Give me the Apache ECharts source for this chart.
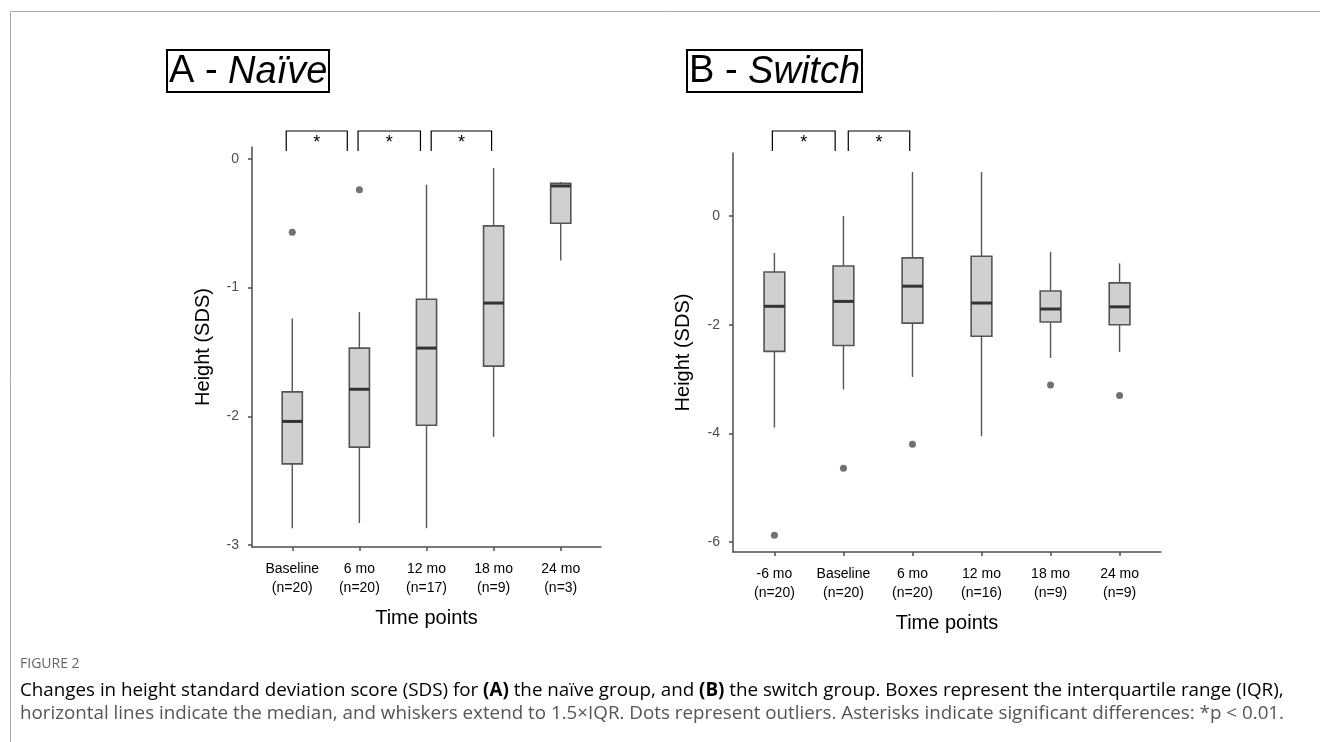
<!DOCTYPE html>
<html>
<head>
<meta charset="utf-8" />
<title>Height SDS</title>
<script src="https://cdn.jsdelivr.net/npm/echarts@6/dist/echarts.min.js"></script>
<style>html,body{margin:0;background:#fff}</style>
</head>
<body>
<div id="main" style="width:1320px;height:742px"></div>
<script type="text/javascript">
// panel A - naive group
var catsA = ['Baseline\n(n=20)', '6 mo\n(n=20)', '12 mo\n(n=17)', '18 mo\n(n=9)', '24 mo\n(n=3)'];
// [low whisker, Q1, median, Q3, high whisker]
var boxesA = [
  [-2.87, -2.37, -2.04, -1.81, -1.24],
  [-2.83, -2.24, -1.79, -1.47, -1.19],
  [-2.87, -2.07, -1.47, -1.09, -0.20],
  [-2.16, -1.61, -1.12, -0.52, -0.07],
  [-0.79, -0.50, -0.21, -0.19, -0.18]
];
var outliersA = [[0, -0.57], [1, -0.24]];
var bracketsA = [[-0.09, 0.82], [0.98, 1.91], [2.07, 2.97]];
var ticksA = [0, -1, -2, -3];

// panel B - switch group
var catsB = ['-6 mo\n(n=20)', 'Baseline\n(n=20)', '6 mo\n(n=20)', '12 mo\n(n=16)', '18 mo\n(n=9)', '24 mo\n(n=9)'];
var boxesB = [
  [-3.89, -2.49, -1.66, -1.03, -0.68],
  [-3.19, -2.38, -1.57, -0.92, 0.00],
  [-2.96, -1.97, -1.29, -0.77, 0.81],
  [-4.05, -2.21, -1.60, -0.74, 0.81],
  [-2.61, -1.95, -1.71, -1.38, -0.66],
  [-2.50, -2.00, -1.67, -1.23, -0.87]
];
var outliersB = [[0, -5.87], [1, -4.64], [2, -4.20], [4, -3.11], [5, -3.30]];
var bracketsB = [[-0.03, 0.88], [1.07, 1.96]];
var ticksB = [0, -2, -4, -6];

var FONT = '"Liberation Sans", Arial, sans-serif';
var CAP_FONT = '"Open Sans", sans-serif';
var AXIS_COL = '#4d4d4d';
var BRACKET_TOP = 131, BRACKET_BOT = 151;

var myChart = echarts.init(document.getElementById('main'));

function renderBox(params, api) {
  var x = api.value(0);
  var lo = api.coord([x, api.value(1)]);
  var q1 = api.coord([x, api.value(2)]);
  var md = api.coord([x, api.value(3)]);
  var q3 = api.coord([x, api.value(4)]);
  var hi = api.coord([x, api.value(5)]);
  var half = api.size([0.15, 0])[0];
  var cx = lo[0];
  return {
    type: 'group',
    children: [
      { type: 'line', shape: { x1: cx, y1: lo[1], x2: cx, y2: q1[1] }, style: { stroke: '#555', lineWidth: 1.4 } },
      { type: 'line', shape: { x1: cx, y1: q3[1], x2: cx, y2: hi[1] }, style: { stroke: '#555', lineWidth: 1.4 } },
      { type: 'rect', shape: { x: cx - half, y: q3[1], width: half * 2, height: q1[1] - q3[1] },
        style: { fill: '#d0d0d0', stroke: '#555', lineWidth: 1.6 } },
      { type: 'line', shape: { x1: cx - half, y1: md[1], x2: cx + half, y2: md[1] }, style: { stroke: '#333', lineWidth: 3 } }
    ]
  };
}

function renderBracket(params, api) {
  var x1 = api.coord([api.value(0), 0])[0];
  var x2 = api.coord([api.value(1), 0])[0];
  return {
    type: 'group',
    children: [
      { type: 'polyline', shape: { points: [[x1, BRACKET_BOT], [x1, BRACKET_TOP], [x2, BRACKET_TOP], [x2, BRACKET_BOT]] },
        style: { stroke: '#000', lineWidth: 1.2, fill: null } },
      { type: 'text', x: (x1 + x2) / 2, y: BRACKET_TOP + 12,
        style: { text: '*', fontSize: 18, fontFamily: FONT, fill: '#000', align: 'center', verticalAlign: 'middle' } }
    ]
  };
}

function xAxisFor(idx, cats) {
  var vals = cats.map(function (c, i) { return i; });
  return {
    type: 'value', gridIndex: idx, min: -0.6, max: cats.length - 0.4,
    axisLine: { show: true, onZero: false, lineStyle: { color: AXIS_COL, width: 1.5 } },
    axisTick: { show: true, customValues: vals, length: 4, lineStyle: { color: AXIS_COL, width: 1.5 } },
    axisLabel: { customValues: vals, formatter: function (v) { return cats[Math.round(v)]; },
      color: '#000', fontSize: 14, lineHeight: 19, margin: 13, fontFamily: FONT },
    splitLine: { show: false },
    name: 'Time points', nameLocation: 'middle', nameGap: 61, nameMoveOverlap: false,
    nameTextStyle: { color: '#000', fontSize: 20, fontFamily: FONT }
  };
}

function yAxisFor(idx, min, max, ticks, gap) {
  return {
    type: 'value', gridIndex: idx, min: min, max: max,
    axisLine: { show: true, onZero: false, lineStyle: { color: AXIS_COL, width: 1.5 } },
    axisTick: { show: true, customValues: ticks, length: 4, lineStyle: { color: AXIS_COL, width: 1.5 } },
    axisLabel: { customValues: ticks, formatter: function (v) { return String(v); },
      color: AXIS_COL, fontSize: 14, margin: 13, fontFamily: FONT },
    splitLine: { show: false },
    name: 'Height (SDS)', nameLocation: 'middle', nameGap: gap, nameMoveOverlap: false,
    nameTextStyle: { color: '#000', fontSize: 20, fontFamily: FONT }
  };
}

function toBoxData(boxes) {
  return boxes.map(function (b, i) { return [i].concat(b); });
}

var titleRich = {
  a: { fontSize: 38, lineHeight: 44, fontFamily: FONT, color: '#000', fontWeight: 'normal' },
  b: { fontSize: 38, lineHeight: 44, fontFamily: FONT, color: '#000', fontWeight: 'normal', fontStyle: 'italic' }
};

option = {
  animation: false,
  backgroundColor: '#fff',
  title: [
    { text: '{a|A - }{b|Naïve}', left: 167, top: 47, padding: [3, 2, 1, 2], borderColor: '#000', borderWidth: 2,
      textStyle: { fontWeight: 'normal', rich: titleRich } },
    { text: '{a|B - }{b|Switch}', left: 687, top: 47, padding: [3, 2, 1, 2], borderColor: '#000', borderWidth: 2,
      textStyle: { fontWeight: 'normal', rich: titleRich } }
  ],
  grid: [
    { left: 252, top: 147, width: 349, height: 400 },
    { left: 733, top: 153, width: 428, height: 399 }
  ],
  xAxis: [xAxisFor(0, catsA), xAxisFor(1, catsB)],
  yAxis: [yAxisFor(0, -3.016, 0.093, ticksA, 39), yAxisFor(1, -6.18, 1.16, ticksB, 40)],
  series: [
    { type: 'custom', xAxisIndex: 0, yAxisIndex: 0, renderItem: renderBox, data: toBoxData(boxesA),
      encode: { x: 0, y: [1, 2, 3, 4, 5] } },
    { type: 'scatter', xAxisIndex: 0, yAxisIndex: 0, data: outliersA, symbolSize: 7,
      itemStyle: { color: AXIS_COL } },
    { type: 'custom', xAxisIndex: 0, yAxisIndex: 0, renderItem: renderBracket, data: bracketsA, clip: false,
      encode: { x: [0, 1] } },
    { type: 'custom', xAxisIndex: 1, yAxisIndex: 1, renderItem: renderBox, data: toBoxData(boxesB),
      encode: { x: 0, y: [1, 2, 3, 4, 5] } },
    { type: 'scatter', xAxisIndex: 1, yAxisIndex: 1, data: outliersB, symbolSize: 7,
      itemStyle: { color: AXIS_COL } },
    { type: 'custom', xAxisIndex: 1, yAxisIndex: 1, renderItem: renderBracket, data: bracketsB, clip: false,
      encode: { x: [0, 1] } }
  ],
  graphic: [
    { type: 'polyline', shape: { points: [[10.5, 742], [10.5, 11.5], [1320, 11.5]] },
      style: { stroke: '#aaa', lineWidth: 1, fill: null } },
    { type: 'text', left: 20, top: 657,
      style: { text: 'FIGURE 2', fontSize: 14, fontFamily: CAP_FONT, fill: '#666' } },
    { type: 'text', left: 20, top: 681,
      style: { text: '{n|Changes in height standard deviation score (SDS) for }{b|(A)}{n| the naïve group, and }{b|(B)}{n| the switch group. Boxes represent the interquartile range (IQR),}',
        rich: { n: { fontSize: 18.8, fontFamily: CAP_FONT, color: '#555' },
                b: { fontSize: 18.8, fontFamily: CAP_FONT, color: '#333', fontWeight: 'bold' } } } },
    { type: 'text', left: 20, top: 704,
      style: { text: 'horizontal lines indicate the median, and whiskers extend to 1.5×IQR. Dots represent outliers. Asterisks indicate significant differences: *p < 0.01.',
        fontSize: 18.8, fontFamily: CAP_FONT, fill: '#555' } }
  ]
};

myChart.setOption(option);
</script>
</body>
</html>
